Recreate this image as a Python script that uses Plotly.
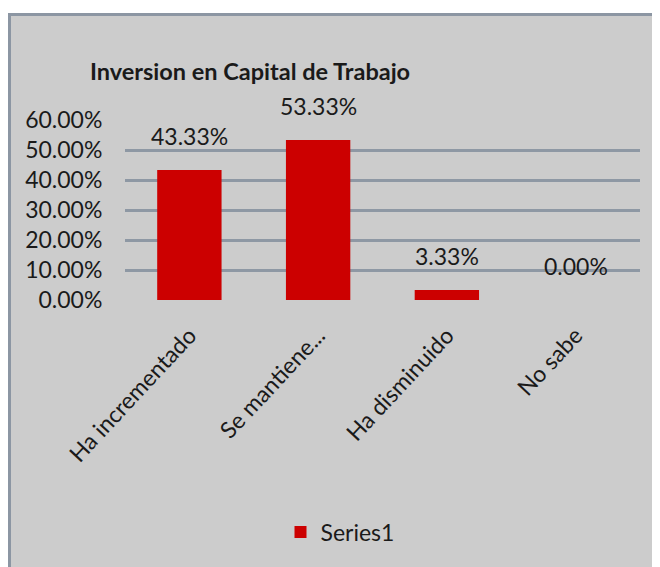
import plotly.graph_objects as go

categories = ["Ha incrementado", "Se mantiene...", "Ha disminuido", "No sabe"]
values = [0.4333, 0.5333, 0.0333, 0.0]
series_name = "Series1"
title_text = "Inversion en Capital de Trabajo"
y_ticks = [0, 0.1, 0.2, 0.3, 0.4, 0.5, 0.6]
y_ticklabels = ["0.00%", "10.00%", "20.00%", "30.00%", "40.00%", "50.00%", "60.00%"]

FONT = "Lato, Calibri, Carlito, sans-serif"
TXT = "#1a1a1a"
BAR = "#cc0000"
BG = "#cccccc"
GRID = "#8e98a4"

OFF = 8  # page body margin
W, H = 660 - OFF, 567 - OFF
L, R, T, B = 125 - OFF, 20, 120 - OFF, 267
pw, ph = W - L - R, H - T - B

def px_x(px):
    return (px - OFF - L) / pw

def px_y(py):
    return (H - B - (py - OFF)) / ph

fig = go.Figure()
fig.add_trace(go.Bar(
    x=categories, y=values, name=series_name,
    marker=dict(color=BAR, line=dict(width=0)),
    width=0.5, showlegend=True,
))

for c, v in zip(categories, values):
    fig.add_annotation(x=c, y=v, xref="x", yref="y", text=f"{v*100:.2f}%",
                       showarrow=False, yanchor="bottom", yshift=18,
                       font=dict(family=FONT, size=23, color=TXT))

fig.add_shape(type="rect", xref="paper", yref="paper", layer="below",
              x0=px_x(9.5), x1=px_x(680), y0=px_y(590), y1=px_y(14.5),
              fillcolor=BG, line=dict(color="#8c96a3", width=3))

fig.update_layout(
    width=W, height=H,
    margin=dict(l=L, r=R, t=T, b=B, pad=0),
    paper_bgcolor="white", plot_bgcolor=BG,
    font=dict(family=FONT, color=TXT),
    title=dict(text="<b>" + title_text + "</b>", x=px_x(250), xref="paper", xanchor="center",
               y=1 - (72 - OFF) / H, yref="container", yanchor="middle",
               font=dict(family=FONT, size=23.5, color=TXT)),
    xaxis=dict(tickangle=-47, tickfont=dict(family=FONT, size=23, color=TXT),
               showgrid=False, showline=False, ticks="outside", ticklen=12,
               tickcolor="rgba(0,0,0,0)", zeroline=False),
    yaxis=dict(range=[0, 0.6], tickvals=y_ticks, ticktext=y_ticklabels,
               tickfont=dict(family=FONT, size=23, color=TXT),
               showgrid=True, gridcolor=GRID, gridwidth=2.5, zeroline=False,
               showline=False, ticks="outside", ticklen=17, tickcolor="rgba(0,0,0,0)"),
    legend=dict(orientation="h", x=px_x(340), xanchor="center", y=px_y(532), yanchor="middle",
                font=dict(family=FONT, size=23, color=TXT), bgcolor="rgba(0,0,0,0)"),
    bargap=0.5,
)

fig.write_html("out.html")
